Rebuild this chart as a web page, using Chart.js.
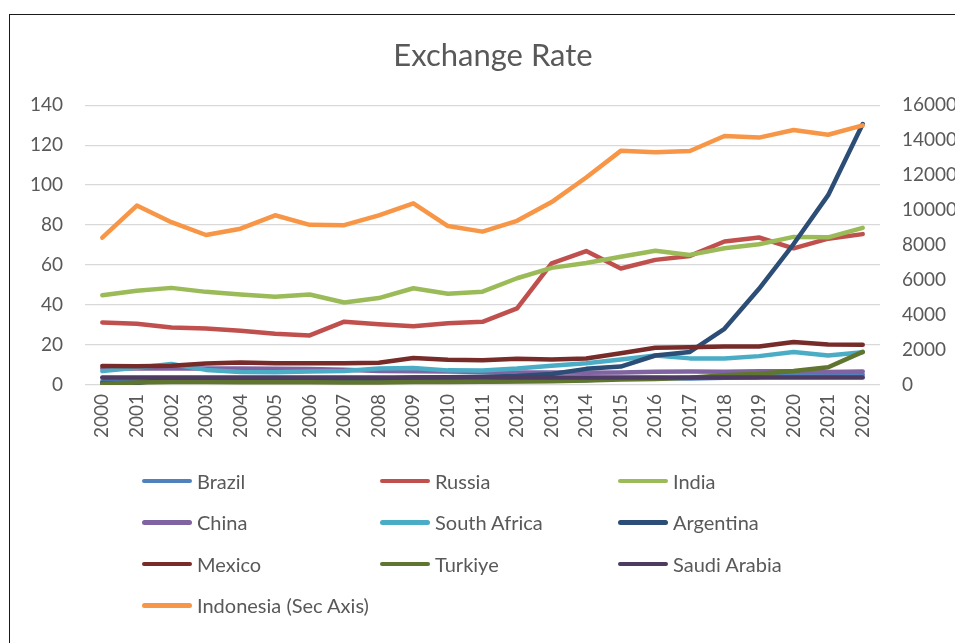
<!DOCTYPE html>
<html>
<head>
<meta charset="utf-8">
<title>Exchange Rate</title>
<script src="https://cdn.jsdelivr.net/npm/chart.js@4.4.1/dist/chart.umd.min.js"></script>
<style>
    html, body {
        margin: 0;
        padding: 0;
        width: 955px;
        height: 643px;
        overflow: hidden;
        background: #ffffff;
    }
    #wrap {
        position: relative;
        width: 955px;
        height: 643px;
        overflow: hidden;
    }
    #chart {
        position: absolute;
        left: 0;
        top: 0;
    }
    .frame {
        position: absolute;
        left: 9px;
        top: 14px;
        width: 960px;
        height: 640px;
        border-left: 1.5px solid #1a1a1a;
        border-top: 1.5px solid #1a1a1a;
        pointer-events: none;
    }
    #legend {
        position: absolute;
        left: 142px;
        top: 460px;
        display: grid;
        grid-template-columns: 238px 238px 238px;
        grid-auto-rows: 41.5px;
        font-family: Lato, "Open Sans", sans-serif;
        font-size: 20px;
        color: #595959;
    }
    .legend-item {
        display: flex;
        align-items: center;
    }
    .legend-swatch {
        width: 50px;
        height: 4.5px;
        border-radius: 3px;
        margin-right: 5px;
    }
</style>
</head>
<body>
<div id="wrap">
    <!-- the original chart runs past the right edge of the shot, so the canvas is wider than the window -->
    <canvas id="chart" width="986" height="643"></canvas>
    <div class="frame"></div>
    <div id="legend"></div>
</div>
<script>
// Values
const years = ['2000', '2001', '2002', '2003', '2004', '2005', '2006', '2007', '2008', '2009', '2010', '2011',
    '2012', '2013', '2014', '2015', '2016', '2017', '2018', '2019', '2020', '2021', '2022'];

const brazil = [1.83, 2.35, 2.92, 3.08, 2.93, 2.43, 2.18, 1.95, 1.83, 2.00, 1.76, 1.67, 1.95, 2.16, 2.35, 3.33, 3.49, 3.19, 3.65, 3.94, 5.16, 5.39, 5.16];
const russia = [31.3, 30.7, 28.8, 28.3, 27.2, 25.6, 24.8, 31.7, 30.4, 29.4, 30.9, 31.6, 38.3, 60.9, 67.0, 58.3, 62.6, 64.6, 71.8, 73.8, 68.4, 73.2, 75.5];
const india = [44.9, 47.2, 48.6, 46.6, 45.3, 44.1, 45.3, 41.3, 43.5, 48.4, 45.7, 46.7, 53.4, 58.6, 61.0, 64.2, 67.2, 65.1, 68.4, 70.4, 74.1, 73.9, 78.6];
const china = [8.28, 8.28, 8.28, 8.28, 8.28, 8.19, 7.97, 7.61, 6.95, 6.83, 6.77, 6.46, 6.31, 6.20, 6.14, 6.23, 6.64, 6.76, 6.62, 6.91, 6.90, 6.45, 6.74];
const southAfrica = [6.94, 8.61, 10.54, 7.56, 6.46, 6.36, 6.77, 7.05, 8.26, 8.47, 7.32, 7.26, 8.21, 9.66, 10.85, 12.76, 14.71, 13.32, 13.23, 14.45, 16.46, 14.78, 16.36];
const argentina = [1.0, 1.0, 3.06, 2.90, 2.92, 2.90, 3.05, 3.10, 3.14, 3.71, 3.90, 4.11, 4.54, 5.46, 8.08, 9.23, 14.76, 16.56, 28.1, 48.15, 70.54, 94.99, 130.6];
const mexico = [9.46, 9.34, 9.66, 10.79, 11.29, 10.90, 10.90, 10.93, 11.13, 13.51, 12.64, 12.42, 13.17, 12.77, 13.29, 15.85, 18.66, 18.93, 19.24, 19.26, 21.49, 20.27, 20.13];
const turkiye = [0.63, 1.23, 1.51, 1.50, 1.43, 1.34, 1.43, 1.30, 1.30, 1.55, 1.50, 1.67, 1.80, 1.90, 2.19, 2.72, 3.02, 3.65, 4.83, 5.67, 7.01, 8.85, 16.55];
const saudiArabia = [3.75, 3.75, 3.75, 3.75, 3.75, 3.75, 3.75, 3.75, 3.75, 3.75, 3.75, 3.75, 3.75, 3.75, 3.75, 3.75, 3.75, 3.75, 3.75, 3.75, 3.75, 3.75, 3.75];
const indonesia = [8422, 10261, 9311, 8577, 8939, 9705, 9159, 9141, 9699, 10390, 9090, 8770, 9387, 10461, 11865, 13389, 13308, 13381, 14237, 14148, 14582, 14308, 14850];

const leftTicks = [0, 20, 40, 60, 80, 100, 120, 140];
const rightTicks = [0, 2000, 4000, 6000, 8000, 10000, 12000, 14000, 16000];

const seriesList = [
    { label: 'Brazil', data: brazil, color: '#4F81BD', axis: 'y' },
    { label: 'Russia', data: russia, color: '#C0504D', axis: 'y' },
    { label: 'India', data: india, color: '#9BBB59', axis: 'y' },
    { label: 'China', data: china, color: '#8064A2', axis: 'y' },
    { label: 'South Africa', data: southAfrica, color: '#4BACC6', axis: 'y' },
    { label: 'Argentina', data: argentina, color: '#2C4D75', axis: 'y' },
    { label: 'Mexico', data: mexico, color: '#772C2A', axis: 'y' },
    { label: 'Turkiye', data: turkiye, color: '#5F7530', axis: 'y' },
    { label: 'Saudi Arabia', data: saudiArabia, color: '#4D3B62', axis: 'y' },
    { label: 'Indonesia (Sec Axis)', data: indonesia, color: '#F79646', axis: 'y2' }
];

const fontFamily = 'Lato, "Open Sans", sans-serif';
const textColor = '#595959';

Chart.defaults.font.family = fontFamily;
Chart.defaults.color = textColor;

function buildDatasets() {
    return seriesList.map((s, i) => ({
        label: s.label,
        data: s.data,
        yAxisID: s.axis,
        borderColor: s.color,
        backgroundColor: s.color,
        borderWidth: 4.5,
        borderCapStyle: 'round',
        borderJoinStyle: 'round',
        pointRadius: 0,
        tension: 0,
        // later series are painted on top, as in the original
        order: seriesList.length - i
    }));
}

const chart = new Chart(document.getElementById('chart'), {
    type: 'line',
    data: {
        labels: years,
        datasets: buildDatasets()
    },
    options: {
        responsive: false,
        animation: false,
        layout: {
            padding: { left: 0, right: 0, top: 0, bottom: 198 }
        },
        plugins: {
            legend: { display: false },
            tooltip: { enabled: false },
            title: {
                display: true,
                text: 'Exchange Rate',
                color: textColor,
                font: { size: 31, weight: 'normal', family: fontFamily },
                padding: { top: 37, bottom: 31 }
            }
        },
        scales: {
            x: {
                offset: true,
                grid: { display: false, drawTicks: false },
                border: { display: false },
                ticks: {
                    autoSkip: false,
                    minRotation: 90,
                    maxRotation: 90,
                    padding: 9,
                    font: { size: 19 },
                    color: textColor
                },
                afterFit: (scale) => { scale.height = 60; }
            },
            y: {
                position: 'left',
                min: 0,
                max: 140,
                afterBuildTicks: (scale) => { scale.ticks = leftTicks.map(v => ({ value: v })); },
                grid: { color: '#D9D9D9', lineWidth: 1.3, drawTicks: false },
                border: { display: false },
                ticks: { padding: 22, font: { size: 19 }, color: textColor },
                afterFit: (scale) => { scale.width = 85; }
            },
            y2: {
                position: 'right',
                min: 0,
                max: 16000,
                afterBuildTicks: (scale) => { scale.ticks = rightTicks.map(v => ({ value: v })); },
                grid: { display: false, drawTicks: false },
                border: { display: false },
                ticks: {
                    padding: 22,
                    font: { size: 19 },
                    color: textColor,
                    callback: (value) => String(value)
                },
                afterFit: (scale) => { scale.width = 106; }
            }
        }
    }
});

// Legend in three columns, built from the chart's own datasets
function renderLegend() {
    const legendEl = document.getElementById('legend');
    chart.data.datasets.forEach(ds => {
        const item = document.createElement('div');
        item.className = 'legend-item';
        const swatch = document.createElement('span');
        swatch.className = 'legend-swatch';
        swatch.style.background = ds.borderColor;
        const text = document.createElement('span');
        text.textContent = ds.label;
        item.appendChild(swatch);
        item.appendChild(text);
        legendEl.appendChild(item);
    });
}

renderLegend();
</script>
</body>
</html>
